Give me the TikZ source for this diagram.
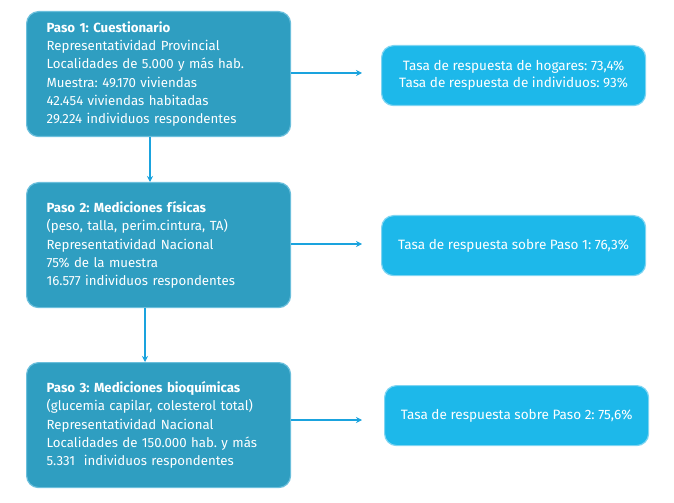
\documentclass[tikz,border=0pt]{standalone}
\usepackage{fontspec}
\setmainfont{Fira Sans}
\usetikzlibrary{arrows.meta}
\definecolor{stepfill}{HTML}{2F9EC1}
\definecolor{stepedge}{HTML}{6BBFDC}
\definecolor{ratefill}{HTML}{1DB8EA}
\definecolor{rateedge}{HTML}{7FD5F2}
\definecolor{arrowc}{HTML}{1AA3DE}
\tikzset{
  stepbox/.style={draw=stepedge, line width=1.2pt, fill=stepfill, rounded corners=12pt,
    minimum width=264bp, minimum height=125bp, text width=224bp, align=left,
    text=white, font=\frenchspacing\fontsize{13.3}{18.4}\selectfont, inner xsep=20bp, inner ysep=0pt, anchor=north west},
  ratebox/.style={draw=rateedge, line width=1.2pt, fill=ratefill, rounded corners=12pt,
    minimum width=264bp, minimum height=60bp, align=center,
    text=white, font=\frenchspacing\fontsize{13.6}{17.5}\selectfont, inner sep=0pt, anchor=north west},
  conn/.style={draw=arrowc, line width=1.2pt, -{Stealth[length=6pt,width=6pt]}}
}
\begin{document}
\begin{tikzpicture}[x=1bp,y=-1bp]
\useasboundingbox (0,0) rectangle (674,503);
\node[stepbox] (s1) at (26,11) {\textbf{Paso 1: Cuestionario}\\Representatividad Provincial\\Localidades de 5.000 y más hab.\\Muestra: 49.170 viviendas\\42.454 viviendas habitadas\\29.224 individuos respondentes};
\node[stepbox] (s2) at (26,182) {\textbf{Paso 2: Mediciones físicas}\\(peso, talla, perim.cintura, TA)\\Representatividad Nacional\\75\% de la muestra\\16.577 individuos respondentes};
\node[stepbox] (s3) at (26,362) {\textbf{Paso 3: Mediciones bioquímicas}\\(glucemia capilar, colesterol total)\\Representatividad Nacional\\Localidades de 150.000 hab. y más\\5.331\ \ individuos respondentes};
\node[ratebox] (r1) at (381,45) {Tasa de respuesta de hogares: 73,4\%\\Tasa de respuesta de individuos: 93\%};
\node[ratebox] (r2) at (381,215) {Tasa de respuesta sobre Paso 1: 76,3\%};
\node[ratebox] (r3) at (384,385) {Tasa de respuesta sobre Paso 2: 75,6\%};
\coordinate (e1) at (362,73);
\coordinate (e2) at (362,244);
\coordinate (e3) at (362,420);
\draw[conn] (s1.east |- e1) -- (e1);
\draw[conn] (s2.east |- e2) -- (e2);
\draw[conn] (s3.east |- e3) -- (e3);
\draw[conn] (s1.south -| 150,0) -- (s2.north -| 150,0);
\draw[conn] (s2.south -| 145,0) -- (s3.north -| 145,0);
\end{tikzpicture}
\end{document}
